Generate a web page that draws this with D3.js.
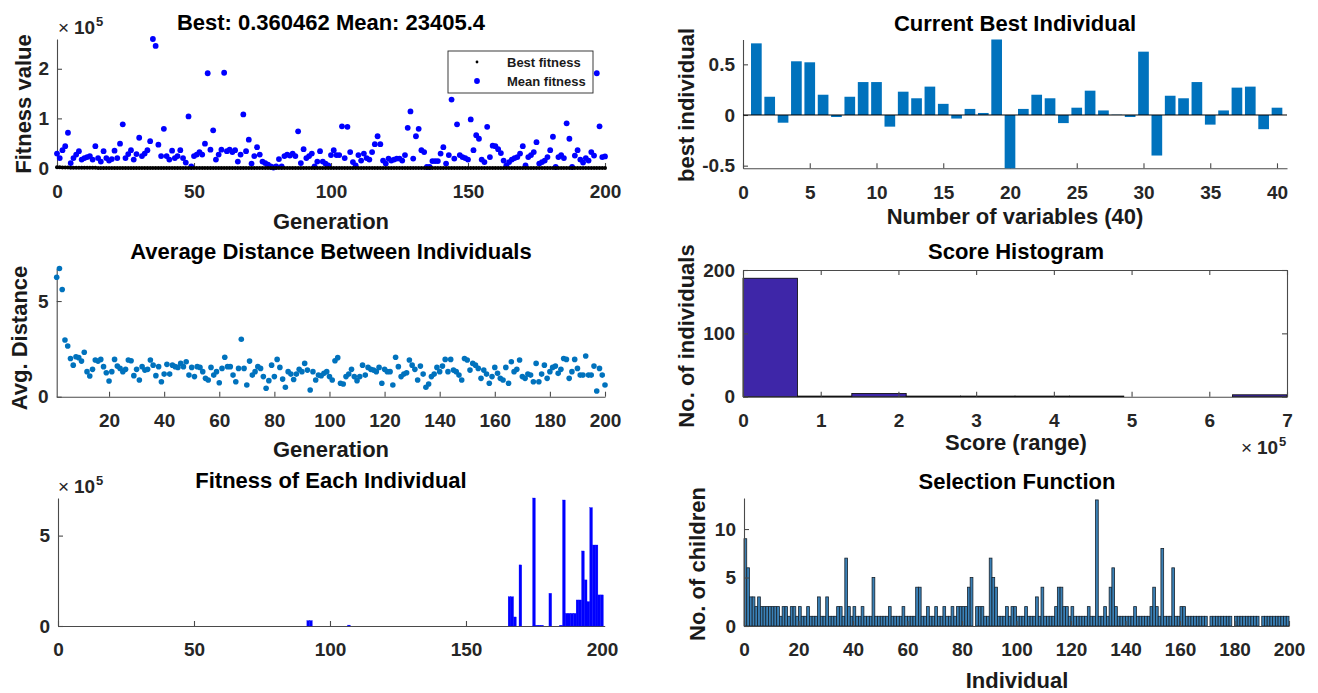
<!DOCTYPE html>
<html>
<head>
<meta charset="utf-8">
<script src="https://cdn.jsdelivr.net/npm/d3@7"></script>
<style>
  body { margin: 0; background: #fff; }
  svg text { font-family: "Liberation Sans", Arial, Helvetica, sans-serif; }
</style>
</head>
<body>
<svg id="fig" width="1318" height="693"></svg>
<script>
// ---------------- data ----------------
// Mean fitness of the population per generation (0..200)
const meanFitness = [
  29000, 20000, 36000, 44000, 71000, 10000, 20000, 27000, 34000, 17000,
  20000, 22000, 24000, 17000, 44000, 20000, 13000, 34000, 20000, 15000,
  18000, 35000, 20000, 49000, 88000, 20000, 28000, 36000, 17000, 28000,
  61000, 24000, 29000, 36000, 54000, 260000, 246000, 47000, 24000, 79000,
  24000, 17000, 35000, 20000, 24000, 36000, 20000, 11000, 104000, 3000,
  24000, 27000, 32000, 27000, 49000, 191000, 37000, 76000, 17000, 27000,
  37000, 192000, 34000, 37000, 32000, 36000, 13000, 27000, 108000, 34000,
  57000, 9000, 24000, 42000, 27000, 13000, 10000, 7000, 3000, 1000,
  3000, 18000, 3000, 24000, 27000, 25000, 29000, 24000, 74000, 10000,
  38000, 20000, 24000, 29000, 3000, 13000, 34000, 13000, 9000, 5000,
  26000, 36000, 26000, 26000, 84000, 20000, 83000, 32000, 12000, 5000,
  26000, 15000, 29000, 20000, 17000, 32000, 48000, 64000, 48000, 15000,
  9000, 19000, 15000, 17000, 19000, 19000, 15000, 26000, 81000, 114000,
  19000, 64000, 79000, 36000, 32000, 2000, 2000, 14000, 14000, 14000,
  29000, 42000, 9000, 26000, 138000, 19000, 88000, 26000, 22000, 20000,
  17000, 98000, 36000, 66000, 59000, 17000, 12000, 83000, 22000, 45000,
  44000, 38000, 30000, 15000, 5000, 12000, 17000, 20000, 22000, 29000,
  44000, 5000, 22000, 26000, 32000, 52000, 9000, 12000, 15000, 22000,
  36000, 63000, 2000, 22000, 26000, 20000, 90000, 59000, 2000, 25000,
  36000, 17000, 11000, 20000, 15000, 32000, 25000, 191000, 84000, 22000,
  23405.4
];
// Best fitness per generation (0..200)
const bestFitness = [
  1620, 1380, 1105, 964, 871, 702, 655, 540, 498, 431,
  402, 355, 318, 297, 260, 241, 219, 198, 176, 163,
  151, 139, 122, 110, 98.6, 91.2, 84.5, 77.9, 70.3, 64.8,
  59.1, 54.6, 50.2, 46.7, 43.1, 40.5, 37.2, 34.8, 32.0, 29.9,
  27.6, 25.8, 24.1, 22.5, 21.0, 19.7, 18.4, 17.2, 16.1, 15.1,
  14.2, 13.3, 12.5, 11.8, 11.1, 10.5, 9.91, 9.36, 8.84, 8.37,
  7.93, 7.52, 7.13, 6.77, 6.43, 6.11, 5.82, 5.54, 5.28, 5.04,
  4.81, 4.59, 4.39, 4.20, 4.02, 3.85, 3.69, 3.54, 3.40, 3.26,
  3.13, 3.01, 2.89, 2.78, 2.68, 2.58, 2.48, 2.39, 2.31, 2.23,
  2.15, 2.08, 2.01, 1.94, 1.88, 1.82, 1.76, 1.71, 1.66, 1.61,
  1.56, 1.51, 1.47, 1.43, 1.39, 1.35, 1.31, 1.28, 1.24, 1.21,
  1.18, 1.15, 1.12, 1.09, 1.06, 1.04, 1.01, 0.99, 0.966, 0.944,
  0.922, 0.901, 0.881, 0.862, 0.843, 0.825, 0.808, 0.791, 0.775, 0.759,
  0.744, 0.729, 0.715, 0.701, 0.688, 0.675, 0.662, 0.650, 0.638, 0.627,
  0.616, 0.605, 0.595, 0.585, 0.575, 0.566, 0.557, 0.548, 0.539, 0.531,
  0.523, 0.515, 0.508, 0.500, 0.493, 0.486, 0.479, 0.473, 0.466, 0.460,
  0.454, 0.448, 0.443, 0.437, 0.432, 0.427, 0.422, 0.417, 0.412, 0.408,
  0.404, 0.400, 0.396, 0.392, 0.389, 0.386, 0.383, 0.380, 0.378, 0.376,
  0.374, 0.372, 0.370, 0.369, 0.368, 0.367, 0.366, 0.365, 0.364, 0.363,
  0.3625, 0.362, 0.3615, 0.3612, 0.3609, 0.3607, 0.3606, 0.3605, 0.36048, 0.36047,
  0.360462
];
// Average distance between individuals per generation (1..200)
const avgDistance = [
  6.24, 6.7, 5.6, 2.96, 2.65, 2.0, 1.65, 2.09, 2.04, 1.86,
  2.32, 1.31, 1.08, 1.43, 1.92, 1.86, 1.95, 1.57, 1.25, 0.82,
  1.31, 1.95, 1.6, 1.48, 1.31, 1.43, 1.92, 1.88, 1.1, 1.43,
  0.87, 1.57, 1.39, 1.43, 1.92, 1.65, 1.1, 1.57, 0.78, 1.18,
  1.69, 1.18, 1.65, 1.57, 1.53, 1.74, 1.57, 1.83, 1.13, 1.53,
  1.05, 1.57, 1.53, 1.31, 0.96, 0.87, 1.53, 1.13, 1.31, 0.73,
  1.48, 2.06, 1.57, 1.57, 1.13, 0.78, 1.48, 3.0, 1.48, 0.61,
  1.86, 1.13, 1.31, 1.57, 1.48, 1.05, 0.44, 0.84, 1.65, 1.05,
  1.95, 1.53, 0.92, 0.49, 1.31, 1.18, 0.9, 1.18, 1.43, 1.31,
  1.74, 1.39, 0.35, 1.31, 0.87, 1.13, 1.1, 1.22, 1.31, 1.05,
  0.87, 1.88, 2.04, 0.7, 0.66, 1.05, 1.18, 1.43, 1.05, 0.84,
  1.05, 1.65, 1.13, 1.53, 1.43, 1.39, 1.31, 1.53, 0.7, 1.43,
  1.31, 1.31, 0.61, 2.06, 1.57, 1.05, 1.18, 1.25, 1.92, 1.65,
  1.43, 0.87, 1.6, 1.18, 0.49, 0.66, 1.05, 1.18, 1.53, 1.31,
  1.6, 1.95, 1.31, 1.95, 1.39, 1.31, 1.13, 0.87, 2.0, 1.92,
  1.39, 1.74, 1.65, 1.48, 0.96, 1.39, 1.18, 0.7, 1.05, 1.53,
  1.22, 0.96, 0.87, 1.53, 0.7, 1.83, 1.31, 1.43, 1.92, 1.05,
  0.96, 1.18, 1.13, 0.78, 1.74, 0.78, 1.18, 1.65, 0.96, 1.31,
  1.53, 1.6, 1.22, 1.43, 2.0, 1.95, 0.96, 1.31, 1.95, 1.48,
  1.13, 1.13, 2.13, 1.13, 1.13, 1.6, 0.3, 1.48, 1.13, 0.61
];
// Current best individual: 40 variables
const bestIndividual = [
  0.707, 0.18, -0.076, 0.53, 0.52, 0.20, -0.02, 0.18, 0.325, 0.325,
  -0.115, 0.23, 0.165, 0.28, 0.11, -0.035, 0.06, 0.02, 0.745, -0.526,
  0.06, 0.20, 0.165, -0.08, 0.072, 0.24, 0.045, 0.003, -0.02, 0.625,
  -0.40, 0.19, 0.165, 0.325, -0.095, 0.045, 0.27, 0.28, -0.14, 0.072
];
// Score histogram: bin edges and counts
const scoreBinEdges = [0, 70000, 140000, 210000, 280000, 350000, 420000, 490000, 560000, 630000, 700000];
const scoreCounts = [187, 1, 5, 1, 1, 1, 1, 0, 0, 3];
// Fitness of each individual (1..200)
const individualFitness = [
  0, 0, 0, 0, 0, 0, 0, 0, 0, 0, 0, 0, 0, 0, 0, 0, 0, 0, 0, 0,
  0, 0, 0, 0, 0, 0, 0, 0, 0, 0, 0, 0, 0, 0, 0, 0, 0, 0, 0, 0,
  0, 0, 0, 0, 0, 0, 0, 0, 0, 0, 0, 0, 0, 0, 0, 0, 0, 0, 0, 0,
  0, 0, 0, 0, 0, 0, 0, 0, 0, 0, 0, 0, 0, 0, 0, 0, 0, 0, 0, 0,
  0, 0, 0, 0, 0, 0, 0, 0, 0, 0, 0, 30000, 30000, 0, 0, 0, 0, 0, 0, 0,
  0, 0, 0, 0, 0, 0, 5000, 0, 0, 0, 0, 0, 0, 0, 0, 0, 0, 0, 0, 0,
  0, 0, 0, 0, 0, 0, 0, 0, 0, 0, 0, 0, 0, 0, 0, 0, 0, 0, 0, 0,
  0, 0, 0, 0, 0, 0, 0, 0, 0, 0, 0, 0, 0, 0, 0, 0, 0, 0, 0, 0,
  0, 0, 0, 0, 0, 162000, 162000, 50000, 0, 338000, 0, 0, 0, 0, 708000, 4000, 4000, 4000, 0, 0,
  181000, 0, 0, 0, 4000, 697000, 70000, 70000, 70000, 70000,
  144000, 144000, 415000, 255000, 135000, 655000, 448000, 448000, 172000, 172000
];
// Selection function: number of children per individual (1..200)
const childrenCount = [
  9, 6, 3, 3, 2, 3, 2, 2, 2, 2, 2, 2, 2, 1, 2, 2, 1, 2, 2, 1,
  2, 1, 1, 2, 1, 1, 1, 3, 1, 1, 3, 1, 1, 1, 2, 2, 1, 7, 2, 1,
  2, 1, 1, 2, 1, 1, 1, 5, 1, 1, 1, 1, 1, 2, 1, 1, 1, 1, 2, 1,
  1, 1, 1, 4, 4, 1, 1, 2, 1, 1, 2, 1, 1, 2, 1, 1, 2, 1, 2, 2,
  2, 2, 4, 5, 0, 2, 2, 2, 1, 1, 7, 5, 4, 1, 1, 1, 2, 1, 2, 2,
  1, 1, 1, 2, 1, 1, 1, 3, 1, 4, 1, 1, 1, 1, 2, 4, 4, 2, 2, 1,
  2, 1, 1, 1, 1, 1, 2, 1, 1, 13, 1, 1, 2, 1, 4, 6, 2, 1, 1, 1,
  1, 1, 1, 2, 1, 1, 1, 1, 1, 2, 4, 2, 1, 8, 1, 1, 1, 6, 1, 1,
  2, 2, 1, 1, 1, 1, 1, 1, 1, 1, 0, 1, 1, 1, 1, 1, 1, 1, 1, 0,
  1, 1, 1, 1, 1, 1, 1, 1, 1, 0, 1, 1, 1, 1, 1, 1, 1, 1, 1, 1
];
const genTicksA = [0, 50, 100, 150, 200];
const genTicksB = [20, 40, 60, 80, 100, 120, 140, 160, 180, 200];
const varTicks = [0, 5, 10, 15, 20, 25, 30, 35, 40];

// ---------------- drawing helpers ----------------
const svg = d3.select("#fig");
svg.append("rect").attr("width", 1318).attr("height", 693).attr("fill", "#fff");
const AXIS_COLOR = "#4a4a4a";
const TICK_TEXT = "#262626";

function styleAxis(g) {
  g.selectAll("path, line").attr("stroke", AXIS_COLOR).attr("stroke-width", 1.1);
  g.selectAll("text").attr("font-size", 19).attr("font-weight", "bold").attr("fill", TICK_TEXT);
  return g;
}
function bottomAxis(scale, y, ticks, fmt) {
  const ax = d3.axisBottom(scale).tickValues(ticks).tickSizeInner(-5).tickSizeOuter(0).tickPadding(17)
    .tickFormat(fmt || (d => String(d)));
  return styleAxis(svg.append("g").attr("transform", `translate(0,${y})`).call(ax));
}
function leftAxis(scale, x, ticks, fmt) {
  const ax = d3.axisLeft(scale).tickValues(ticks).tickSizeInner(-5).tickSizeOuter(0).tickPadding(8)
    .tickFormat(fmt || (d => String(d)));
  return styleAxis(svg.append("g").attr("transform", `translate(${x},0)`).call(ax));
}
function title(x, y, str) {
  svg.append("text").attr("x", x).attr("y", y).attr("text-anchor", "middle")
    .attr("font-size", 22).attr("font-weight", "bold").attr("fill", "#000").text(str);
}
function xlabel(x, y, str) {
  svg.append("text").attr("x", x).attr("y", y).attr("text-anchor", "middle")
    .attr("font-size", 22).attr("font-weight", "bold").attr("fill", "#1a1a1a").text(str);
}
function ylabel(x, y, str) {
  svg.append("text").attr("transform", `translate(${x},${y}) rotate(-90)`).attr("text-anchor", "middle")
    .attr("font-size", 22).attr("font-weight", "bold").attr("fill", "#1a1a1a").text(str);
}
function exponent(x, y) {
  const g = svg.append("g").attr("fill", TICK_TEXT);
  g.append("text").attr("x", x).attr("y", y).attr("font-size", 19).text("\u00d7");
  g.append("text").attr("x", x + 16).attr("y", y).attr("font-size", 19).attr("font-weight", "bold").text("10");
  g.append("text").attr("x", x + 38).attr("y", y - 8).attr("font-size", 13).attr("font-weight", "bold").text("5");
}
const e5 = d => String(d / 1e5);

// ---------------- Panel 1: best / mean fitness ----------------
{
  const x = d3.scaleLinear().domain([0, 200]).range([57, 605]);
  const y = d3.scaleLinear().domain([0, d3.max(meanFitness)]).range([168, 39]);
  bottomAxis(x, 168, genTicksA);
  leftAxis(y, 57, [0, 100000, 200000], e5);
  svg.append("g").selectAll("circle").data(meanFitness).join("circle")
    .attr("cx", (d, i) => x(i)).attr("cy", d => y(d)).attr("r", 2.9).attr("fill", "#0000ff");
  svg.append("g").selectAll("circle").data(bestFitness).join("circle")
    .attr("cx", (d, i) => x(i)).attr("cy", d => y(d)).attr("r", 2.0).attr("fill", "#000");
  exponent(58, 34);
  title(331, 30, `Best: ${bestFitness[bestFitness.length - 1]} Mean: ${meanFitness[meanFitness.length - 1]}`);
  xlabel(331, 229, "Generation");
  ylabel(31, 104, "Fitness value");
  // legend
  const lg = svg.append("g");
  lg.append("rect").attr("x", 448).attr("y", 51).attr("width", 145).attr("height", 42)
    .attr("fill", "#fff").attr("stroke", "#262626").attr("stroke-width", 0.9);
  lg.append("circle").attr("cx", 477).attr("cy", 62).attr("r", 1.4).attr("fill", "#000");
  lg.append("circle").attr("cx", 477).attr("cy", 81).attr("r", 2.9).attr("fill", "#0000ff");
  lg.append("text").attr("x", 507).attr("y", 67).attr("font-size", 13).attr("font-weight", "bold").attr("fill", "#1a1a1a").text("Best fitness");
  lg.append("text").attr("x", 507).attr("y", 86).attr("font-size", 13).attr("font-weight", "bold").attr("fill", "#1a1a1a").text("Mean fitness");
}

// ---------------- Panel 2: current best individual ----------------
{
  const x = d3.scaleLinear().domain([0, 40.75]).range([743, 1287]);
  const y = d3.scaleLinear().domain(d3.extent(bestIndividual)).range([168.3, 39.5]);
  bottomAxis(x, y.range()[0], varTicks);
  leftAxis(y, 743, [-0.5, 0, 0.5]);
  svg.append("g").selectAll("rect").data(bestIndividual).join("rect")
    .attr("x", (d, i) => x(i + 1 - 0.4)).attr("width", x(0.8) - x(0))
    .attr("y", d => y(Math.max(0, d))).attr("height", d => Math.abs(y(d) - y(0)))
    .attr("fill", "#0072bd");
  svg.append("line").attr("x1", x(0)).attr("x2", x(40.75)).attr("y1", y(0)).attr("y2", y(0))
    .attr("stroke", "#000").attr("stroke-width", 1);
  title(1015, 31, "Current Best Individual");
  xlabel(1015, 224, "Number of variables (40)");
  ylabel(694, 105, "best individual");
}

// ---------------- Panel 3: average distance ----------------
{
  const x = d3.scaleLinear().domain([1, 200]).range([56.7, 605]);
  const y = d3.scaleLinear().domain([0, d3.max(avgDistance)]).range([396.7, 268.5]);
  bottomAxis(x, 396.7, genTicksB);
  leftAxis(y, 56.7, [0, 5]);
  svg.append("g").selectAll("circle").data(avgDistance).join("circle")
    .attr("cx", (d, i) => x(i + 1)).attr("cy", d => y(d)).attr("r", 2.8).attr("fill", "#0072bd");
  title(331, 259, "Average Distance Between Individuals");
  xlabel(331, 457, "Generation");
  ylabel(27, 338, "Avg. Distance");
}

// ---------------- Panel 4: score histogram ----------------
{
  const x = d3.scaleLinear().domain([0, 700000]).range([743, 1287]);
  const y = d3.scaleLinear().domain([0, 200]).range([396.7, 270]);
  svg.append("g").selectAll("rect").data(scoreCounts).join("rect")
    .attr("x", (d, i) => x(scoreBinEdges[i])).attr("width", (d, i) => x(scoreBinEdges[i + 1]) - x(scoreBinEdges[i]))
    .attr("y", d => y(d)).attr("height", d => y(0) - y(d))
    .attr("fill", "#3e26a8").attr("stroke", "#000").attr("stroke-width", 0.8);
  bottomAxis(x, 396.7, [0, 100000, 200000, 300000, 400000, 500000, 600000, 700000], e5);
  leftAxis(y, 743, [0, 100, 200]);
  styleAxis(svg.append("g").attr("transform", "translate(0,270)")
    .call(d3.axisTop(x).tickValues([0, 100000, 200000, 300000, 400000, 500000, 600000, 700000])
      .tickSizeInner(-5).tickSizeOuter(0).tickFormat("")));
  styleAxis(svg.append("g").attr("transform", "translate(1287,0)")
    .call(d3.axisRight(y).tickValues([0, 100, 200]).tickSizeInner(-5).tickSizeOuter(0).tickFormat("")));
  exponent(1241, 454);
  title(1016, 259, "Score Histogram");
  xlabel(1016, 450, "Score (range)");
  ylabel(694, 336, "No. of individuals");
}

// ---------------- Panel 5: fitness of each individual ----------------
{
  const x = d3.scaleLinear().domain([0, 201]).range([58, 604.7]);
  const y = d3.scaleLinear().domain([0, d3.max(individualFitness)]).range([626, 498]);
  bottomAxis(x, 626, genTicksA);
  leftAxis(y, 58, [0, 500000], e5);
  svg.append("g").selectAll("rect").data(individualFitness).join("rect")
    .attr("x", (d, i) => x(i + 1 - 0.5)).attr("width", x(1) - x(0))
    .attr("y", d => y(d)).attr("height", d => y(0) - y(d))
    .attr("fill", "#0000ff").attr("stroke", "#0000ff").attr("stroke-width", 0.3);
  exponent(58, 493);
  title(331, 488, "Fitness of Each Individual");
}

// ---------------- Panel 6: selection function ----------------
{
  const x = d3.scaleLinear().domain([0, 200]).range([744, 1289]);
  const y = d3.scaleLinear().domain([0, 13.2]).range([626, 498]);
  svg.append("g").selectAll("rect").data(childrenCount).join("rect")
    .attr("x", (d, i) => x(i)).attr("width", x(1) - x(0))
    .attr("y", d => y(d)).attr("height", d => y(0) - y(d))
    .attr("fill", "#3a80b6").attr("stroke", "#17222c").attr("stroke-width", 0.8);
  bottomAxis(x, 626, [0, 20, 40, 60, 80, 100, 120, 140, 160, 180, 200]);
  leftAxis(y, 744, [0, 5, 10]);
  title(1017, 489, "Selection Function");
  xlabel(1017, 688, "Individual");
  ylabel(705, 564, "No. of children");
}
</script>
</body>
</html>
